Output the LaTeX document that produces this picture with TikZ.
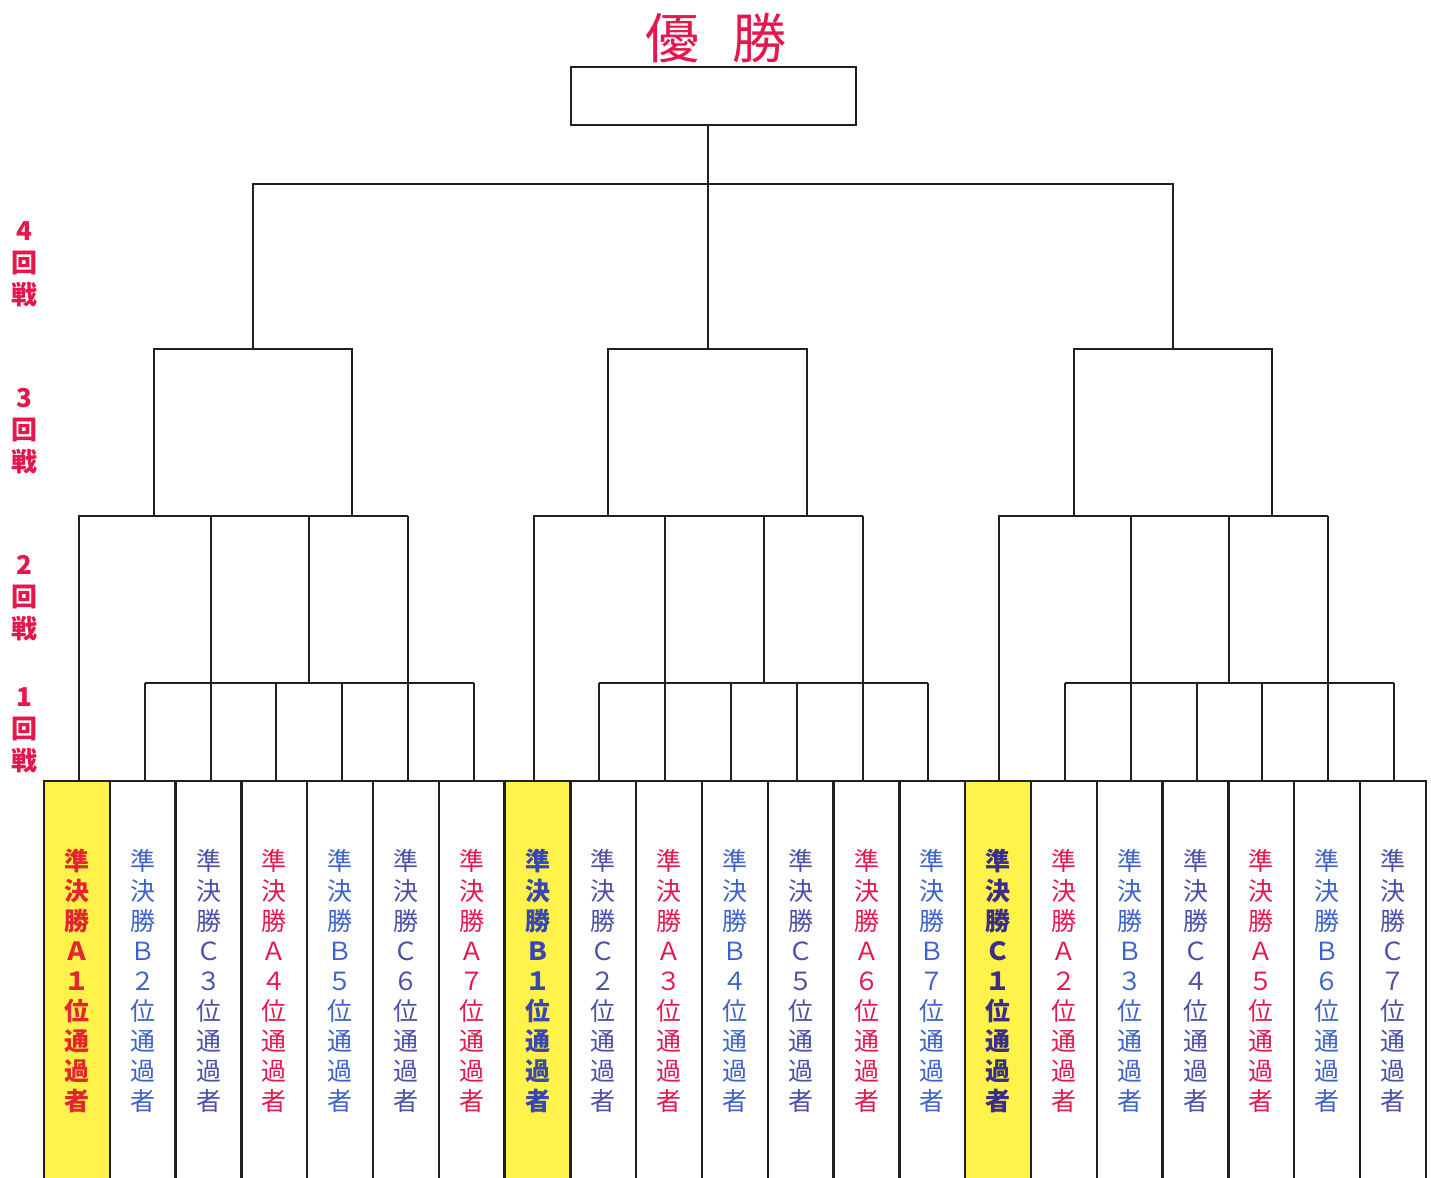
\documentclass[tikz,border=0pt]{standalone}
\usepackage{fontspec}
\setmainfont{Noto Sans CJK JP}
\usetikzlibrary{calc}
\definecolor{rd}{HTML}{E5174D}
\definecolor{bl}{HTML}{3B63C9}
\definecolor{pu}{HTML}{4B4FA8}
\definecolor{rdb}{HTML}{E3262E}
\definecolor{blb}{HTML}{3848B0}
\definecolor{pub}{HTML}{3A2E8A}
\definecolor{yel}{HTML}{FFF24A}
\definecolor{ln}{HTML}{202020}
\begin{document}
\begin{tikzpicture}[x=0.5pt,y=-0.5pt,
  br/.style={draw=ln,line width=1pt},
  colbox/.style={draw=ln,line width=1.2pt,minimum width=32.9pt,minimum height=199.5pt,inner sep=0pt,align=center,
    font=\fontsize{12.5}{15}\selectfont},
  colA/.style={text=rd},
  colB/.style={text=bl},
  colC/.style={text=pu},
  colAy/.style={fill=yel,text=rdb,font=\fontsize{12.5}{15}\selectfont\bfseries},
  colBy/.style={fill=yel,text=blb,font=\fontsize{12.5}{15}\selectfont\bfseries},
  colCy/.style={fill=yel,text=pub,font=\fontsize{12.5}{15}\selectfont\bfseries},
  roundlbl/.style={text=rd,align=center,font=\fontsize{13}{16}\selectfont\bfseries},
  winbox/.style={draw=ln,line width=1pt,minimum width=142.5pt,minimum height=29pt,inner sep=0pt}
]
\useasboundingbox (0,0) rectangle (1431,1178);
% columns
\foreach \i/\L/\N/\s in {0/Ａ/１/colAy,1/Ｂ/２/colB,2/Ｃ/３/colC,3/Ａ/４/colA,4/Ｂ/５/colB,5/Ｃ/６/colC,6/Ａ/７/colA,
  7/Ｂ/１/colBy,8/Ｃ/２/colC,9/Ａ/３/colA,10/Ｂ/４/colB,11/Ｃ/５/colC,12/Ａ/６/colA,13/Ｂ/７/colB,
  14/Ｃ/１/colCy,15/Ａ/２/colA,16/Ｂ/３/colB,17/Ｃ/４/colC,18/Ａ/５/colA,19/Ｂ/６/colB,20/Ｃ/７/colC}{
  \node[colbox,\s] (c\i) at ({76.9+65.8*\i},980.5) {準\\決\\勝\\\L\\\N\\位\\通\\過\\者};
}
% brackets per group
\foreach \g/\dx in {0/2,1/-4,2/1}{
  \pgfmathtruncatemacro\k{7*\g}
  \foreach \j in {1,...,6}{
    \pgfmathtruncatemacro\n{\k+\j}
    \path ($(c\n.north)+(\dx,0)$) coordinate (g\g b\j);
    \draw[br] (g\g b\j) -- (g\g b\j |- 0,683) coordinate (g\g p\j);
  }
  \path ($(c\k.north)+(\dx,0)$) coordinate (g\g b0);
  \draw[br] (g\g p1) -- (g\g p6);
  \draw[br] (g\g b0) -- (g\g b0 |- 0,516) coordinate (g\g q0) -- (g\g p5 |- 0,516) coordinate (g\g q5);
  \draw[br] (g\g p2) -- (g\g p2 |- 0,516);
  \path ($(g\g p3)!0.5!(g\g p4)$) coordinate (g\g m);
  \draw[br] (g\g m) -- (g\g m |- 0,516);
  \draw[br] (g\g p5) -- (g\g q5);
  \path ($(g\g p1 |- 0,516)+(9,0)$) coordinate (g\g L)
        ($(g\g p4 |- 0,516)+(10,0)$) coordinate (g\g R);
  \path (g\g L |- 0,349) coordinate (g\g Lt) (g\g R |- 0,349) coordinate (g\g Rt);
  \draw[br] (g\g L) -- (g\g Lt) -- (g\g Rt) -- (g\g R);
  \path ($(g\g Lt)!0.5!(g\g Rt)$) coordinate (g\g T);
}
% final
\node[winbox] (win) at (713.5,96) {};
\draw[br] (g0T) -- (g0T |- 0,184) -- (g2T |- 0,184) -- (g2T);
\draw[br] (win.south -| g1T) -- (g1T);
\node[text=rd,font=\fontsize{27}{30}\selectfont] (title) at (716,38) {優\hspace{17pt}勝};
% round labels
\node[roundlbl] (r4) at (24,264) {4\\回\\戦};
\node[roundlbl] (r3) at (24,431) {3\\回\\戦};
\node[roundlbl] (r2) at (24,598) {2\\回\\戦};
\node[roundlbl] (r1) at (24,730) {1\\回\\戦};
\end{tikzpicture}
\end{document}
